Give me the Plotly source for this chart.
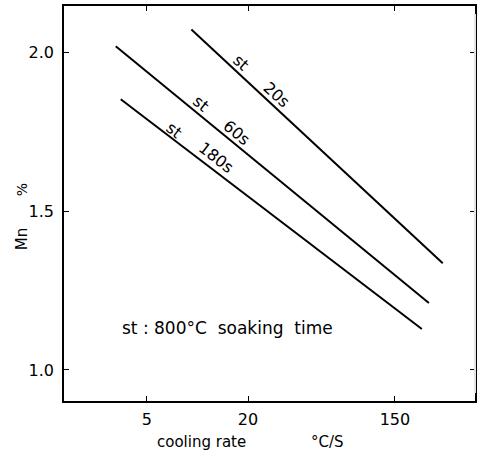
import math
import plotly.graph_objects as go

# data
series_names = ["20s", "60s", "180s"]
x_start = [9.2, 3.26, 3.49]        # cooling rate, °C/s
x_end = [289.0, 239.0, 217.0]
y_start = [2.072, 2.019, 1.852]    # Mn %
y_end = [1.336, 1.211, 1.129]

x_tickvals = [5, 20, 150]
x_ticktext = ["5", "20", "150"]
y_tickvals = [1.0, 1.5, 2.0]
y_ticktext = ["1.0", "1.5", "2.0"]

# label anchor points (cooling rate, Mn %) for "st" and the time labels
st_label_pos = [(18.2, 1.969), (10.5, 1.840), (7.3, 1.755)]
time_label_pos = [(29.4, 1.866), (17.0, 1.746), (12.9, 1.670)]
label_angle = [42, 40, 38]

FONT = "DejaVu Sans"

fig = go.Figure()
for i, name in enumerate(series_names):
    fig.add_trace(go.Scatter(
        x=[x_start[i], x_end[i]], y=[y_start[i], y_end[i]],
        mode="lines", line=dict(color="black", width=2),
        showlegend=False, hoverinfo="skip"))

annotations = []
for i, name in enumerate(series_names):
    for (px, py), txt in ((st_label_pos[i], "st"), (time_label_pos[i], name)):
        annotations.append(dict(
            x=math.log10(px), y=py, xref="x", yref="y", text=txt,
            showarrow=False, textangle=label_angle[i],
            xanchor="center", yanchor="middle",
            font=dict(family=FONT, size=16, color="black")))

annotations.append(dict(
    x=math.log10(15.0), y=1.132, xref="x", yref="y",
    text="st : 800°C  soaking  time", showarrow=False,
    xanchor="center", yanchor="middle",
    font=dict(family=FONT, size=17, color="black")))

# axis titles
title_font = dict(family=FONT, size=15, color="black")
annotations += [
    dict(x=(202 - 64) / 413, y=-0.104, xref="paper", yref="paper",
         text="cooling rate", showarrow=False,
         xanchor="center", yanchor="middle", font=title_font),
    dict(x=(329 - 64) / 413, y=-0.104, xref="paper", yref="paper",
         text="°C/S", showarrow=False,
         xanchor="center", yanchor="middle", font=title_font),
    dict(x=-0.102, y=0.41, xref="paper", yref="paper",
         text="Mn", showarrow=False, textangle=-90,
         xanchor="center", yanchor="middle", font=title_font),
    dict(x=-0.102, y=0.534, xref="paper", yref="paper",
         text="%", showarrow=False, textangle=-90,
         xanchor="center", yanchor="middle",
         font=dict(family=FONT, size=14, color="black")),
]

fig.update_layout(
    width=478, height=452,
    margin=dict(l=64, r=1, t=6, b=51),
    paper_bgcolor="white", plot_bgcolor="white",
    annotations=annotations,
    shapes=[
        dict(type="line", xref="paper", yref="paper", x0=1, x1=1, y0=0.02, y1=0.98,
             line=dict(color="#e4e4e4", width=2), layer="above"),
    ],
)
fig.update_xaxes(
    type="log", range=[0.205, 2.653],
    tickvals=x_tickvals, ticktext=x_ticktext,
    ticks="inside", ticklen=5, tickcolor="black", tickwidth=1,
    showline=True, linecolor="black", linewidth=1.5, mirror="ticks",
    showgrid=False, zeroline=False, ticklabelstandoff=3,
    tickfont=dict(family=FONT, size=16, color="black"),
)
fig.update_yaxes(
    range=[0.9024, 2.1457],
    tickvals=y_tickvals, ticktext=y_ticktext,
    ticks="inside", ticklen=5, tickcolor="black", tickwidth=1,
    showline=True, linecolor="black", linewidth=1.5, mirror="ticks",
    showgrid=False, zeroline=False, ticklabelstandoff=5,
    tickfont=dict(family=FONT, size=16, color="black"),
)

fig.write_html("out.html")
